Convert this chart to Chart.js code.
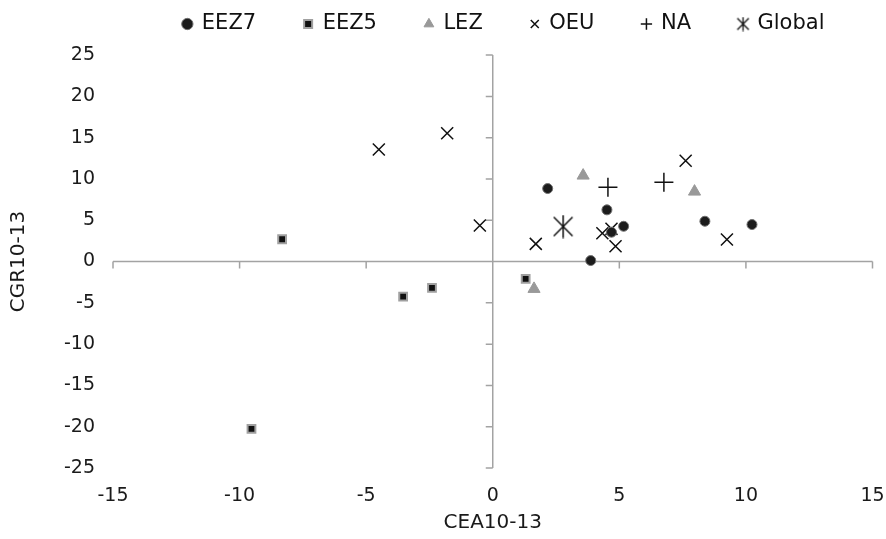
<!DOCTYPE html>
<html>
<head>
<meta charset="utf-8">
<script src="https://cdn.jsdelivr.net/npm/chart.js@4"></script>
<style>
  html, body { margin: 0; padding: 0; background: #fff; }
  #wrap { width: 886px; height: 539px; }
</style>
</head>
<body>
<div id="wrap"><canvas id="myChart" width="886" height="539"></canvas></div>
<script>
// series values (CEA10-13 on x, CGR10-13 on y)
const eez7X = [2.17, 4.51, 4.69, 5.17, 3.87, 8.38, 10.24];
const eez7Y = [8.84, 6.26, 3.55, 4.27, 0.12, 4.88, 4.48];
const eez5X = [-8.32, -3.54, -2.40, -9.53, 1.30];
const eez5Y = [2.70, -4.24, -3.19, -20.26, -2.10];
const lezX = [3.57, 7.97, 1.63];
const lezY = [10.41, 8.47, -3.31];
const oeuX = [-4.50, -1.80, -0.51, 1.70, 4.33, 4.69, 4.85, 9.25, 7.62];
const oeuY = [13.56, 15.53, 4.36, 2.14, 3.43, 3.96, 1.85, 2.66, 12.2];
const naX = [4.55, 6.76];
const naY = [9.0, 9.6];
const globalX = [2.78];
const globalY = [4.24];

const seriesNames = ['EEZ7', 'EEZ5', 'LEZ', 'OEU', 'NA', 'Global'];
const xTitle = 'CEA10-13';
const yTitle = 'CGR10-13';
const xMin = -15, xMax = 15, yMin = -25, yMax = 25, tickStep = 5;

const toPoints = (xs, ys) => xs.map((x, i) => ({x, y: ys[i]}));

//asterisk marker (x with a vertical bar), Chart.js has no such style
function asterisk(size, lw) {
  const c = document.createElement('canvas');
  c.width = size; c.height = size;
  const g = c.getContext('2d');
  const m = size / 2, r = size / 2 - 0.5, d = r * 0.82;
  g.strokeStyle = '#111';
  g.lineWidth = lw;
  g.beginPath();
  g.moveTo(m, m - r); g.lineTo(m, m + r);
  g.moveTo(m - d, m - d); g.lineTo(m + d, m + d);
  g.moveTo(m + d, m - d); g.lineTo(m - d, m + d);
  g.stroke();
  return c;
}
const bigStar = asterisk(24, 1.5);
const smallStar = asterisk(15, 1.3);

// axes crossing at zero, excel style, with outside tick marks
const zeroAxes = {
  id: 'zeroAxes',
  beforeDatasetsDraw(chart) {
    const {ctx, chartArea, scales: {x, y}} = chart;
    const x0 = x.getPixelForValue(0);
    const y0 = y.getPixelForValue(0);
    ctx.save();
    ctx.strokeStyle = '#a3a3a3';
    ctx.lineWidth = 1.5;
    ctx.beginPath();
    ctx.moveTo(chartArea.left, y0); ctx.lineTo(chartArea.right, y0);
    ctx.moveTo(x0, chartArea.top); ctx.lineTo(x0, chartArea.bottom);
    x.ticks.forEach(t => {
      const px = x.getPixelForValue(t.value);
      ctx.moveTo(px, y0); ctx.lineTo(px, y0 + 7);
    });
    y.ticks.forEach(t => {
      const py = y.getPixelForValue(t.value);
      ctx.moveTo(x0, py); ctx.lineTo(x0 - 7, py);
    });
    ctx.stroke();
    ctx.restore();
  }
};

Chart.defaults.font.family = '"DejaVu Sans", Verdana, sans-serif';
Chart.defaults.color = '#1a1a1a';

const data = {
  datasets: [
    {label: seriesNames[0], data: toPoints(eez7X, eez7Y), pointStyle: 'circle', pointRadius: 5,
      backgroundColor: '#1c1c1c', borderColor: '#707070', borderWidth: 1},
    {label: seriesNames[1], data: toPoints(eez5X, eez5Y), pointStyle: 'rect', pointRadius: 5.5,
      backgroundColor: '#111', borderColor: '#a0a0a0', borderWidth: 2},
    {label: seriesNames[2], data: toPoints(lezX, lezY), pointStyle: 'triangle', pointRadius: 7,
      backgroundColor: '#999', borderColor: '#999', borderWidth: 1},
    {label: seriesNames[3], data: toPoints(oeuX, oeuY), pointStyle: 'crossRot', pointRadius: 8.5,
      backgroundColor: '#111', borderColor: '#111', borderWidth: 1.5},
    {label: seriesNames[4], data: toPoints(naX, naY), pointStyle: 'cross', pointRadius: 9.5,
      backgroundColor: '#111', borderColor: '#111', borderWidth: 1.5},
    {label: seriesNames[5], data: toPoints(globalX, globalY), pointStyle: bigStar, pointRadius: 12,
      backgroundColor: '#111', borderColor: '#111', borderWidth: 1.5}
  ]
};

const config = {
  type: 'scatter',
  data,
  options: {
    responsive: false,
    animation: false,
    events: [],
    layout: {padding: {top: -34.5, right: 0, bottom: 0, left: 0}},
    plugins: {
      tooltip: {enabled: false},
      // empty spacer between the legend and the plot
      title: {display: true, text: '', fullSize: false, weight: 500, font: {size: 8}, padding: {top: 0, bottom: 1}},
      legend: {
        position: 'top',
        align: 'end',
        fullSize: false,
        labels: {
          usePointStyle: true,
          boxWidth: 8,
          boxHeight: 8,
          padding: 48,
          color: '#111',
          font: {size: 21},
          generateLabels(chart) {
            const items = Chart.defaults.plugins.legend.labels.generateLabels(chart);
            items.forEach(it => { if (it.text === 'Global') it.pointStyle = smallStar; });
            return items;
          }
        }
      }
    },
    scales: {
      x: {
        type: 'linear',
        min: xMin, max: xMax,
        border: {display: false},
        grid: {display: false, drawTicks: false},
        ticks: {stepSize: tickStep, padding: 17, font: {size: 19}},
        title: {display: true, text: xTitle, font: {size: 20}, padding: {top: 4, bottom: 4}},
        afterFit(s) { s.height = 71; s.paddingLeft = 0; s.paddingRight = 13; }
      },
      y: {
        type: 'linear',
        min: yMin, max: yMax,
        border: {display: false},
        grid: {display: false, drawTicks: false},
        ticks: {stepSize: tickStep, padding: 18, font: {size: 19}},
        title: {display: true, text: yTitle, font: {size: 20}, padding: {top: 7, bottom: 7}},
        afterFit(s) { s.width = 113; }
      }
    }
  },
  plugins: [zeroAxes]
};

new Chart(document.getElementById('myChart').getContext('2d'), config);
</script>
</body>
</html>
